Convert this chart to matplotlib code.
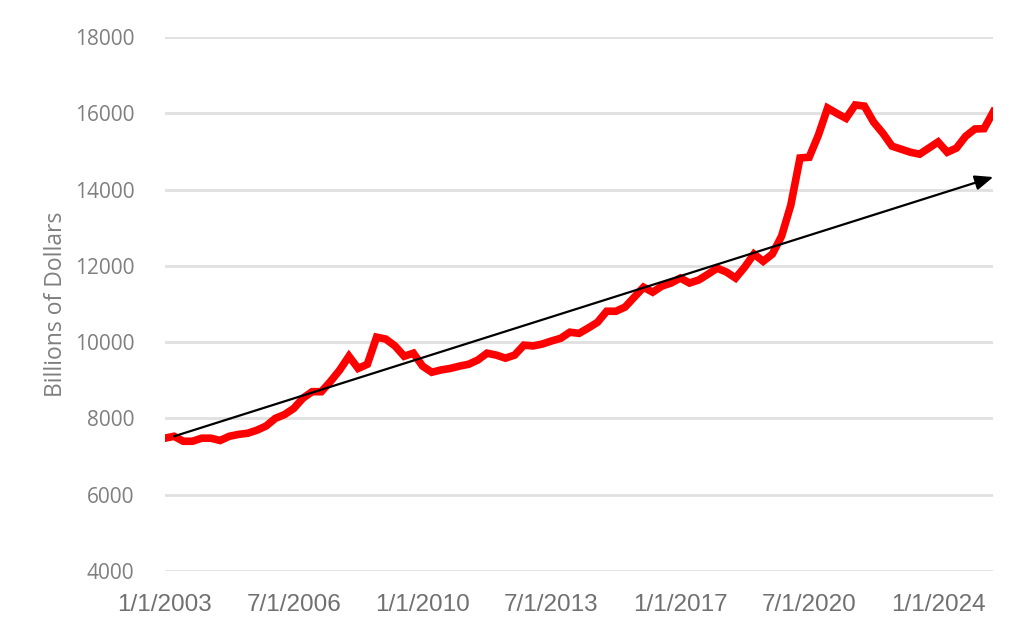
import matplotlib
matplotlib.use("Agg")
import matplotlib.pyplot as plt
from matplotlib import font_manager
import pandas as pd

# Quarterly values, 2003 Q1 onward (billions of dollars)
values = [
    7480, 7530, 7400, 7400, 7480, 7480, 7420, 7530, 7580, 7610,
    7690, 7800, 8000, 8100, 8260, 8530, 8700, 8700, 8970, 9270,
    9630, 9310, 9420, 10130, 10080, 9900, 9630, 9710, 9370, 9210,
    9270, 9310, 9370, 9420, 9530, 9710, 9660, 9580, 9660, 9920,
    9900, 9950, 10030, 10100, 10260, 10230, 10370, 10520, 10810, 10810,
    10920, 11180, 11440, 11310, 11470, 11550, 11680, 11550, 11630, 11780,
    11940, 11840, 11680, 11970, 12310, 12120, 12310, 12780, 13590, 14830,
    14850, 15430, 16140, 16000, 15870, 16220, 16190, 15770, 15480, 15140,
    15060, 14980, 14930, 15090, 15250, 14980, 15090, 15400, 15590, 15600,
    16040,
]
dates = pd.date_range("2003-01-01", periods=len(values), freq="QS")
label_step = 14

# trend arrow (start index/value, end index/value)
trend_x = [1, 90]
trend_y = [7530, 14330]

y_ticks = [4000, 6000, 8000, 10000, 12000, 14000, 16000, 18000]

GRAY = "#7f7f7f"
GRID = "#e0e0e0"

names = {f.name for f in font_manager.fontManager.ttflist}
narrow = "Liberation Sans Narrow" if "Liberation Sans Narrow" in names else "Liberation Sans"

fig = plt.figure(figsize=(10.24, 6.4), dpi=100)
ax = fig.add_axes([0.161, 0.108, 0.809, 0.834])

xs = list(range(len(values)))
ax.plot(xs, values, color="#ff0000", lw=5.5, solid_joinstyle="miter", zorder=3)

ax.annotate(
    "",
    xy=(trend_x[1], trend_y[1]),
    xytext=(trend_x[0], trend_y[0]),
    arrowprops=dict(arrowstyle="-|>,head_length=1.1,head_width=0.45", color="black", lw=1.6,
                    shrinkA=0, shrinkB=0),
    zorder=4,
)

ax.set_xlim(0, len(values) - 1)
ax.set_ylim(y_ticks[0], y_ticks[-1])
ax.set_yticks(y_ticks)
ax.grid(axis="y", color=GRID, lw=2)
ax.set_axisbelow(True)
for s in ax.spines.values():
    s.set_visible(False)

tick_pos = xs[::label_step]
ax.set_xticks(tick_pos)
ax.set_xticklabels([f"{d.month}/{d.day}/{d.year}" for d in dates[::label_step]],
                   family=[narrow, "DejaVu Sans"], fontsize=17.5, color="#707070")
ax.tick_params(axis="x", length=0, pad=17)
ax.tick_params(axis="y", length=0, pad=22, labelsize=15, labelcolor=GRAY)
for t in ax.get_yticklabels():
    t.set_family(["Open Sans", "DejaVu Sans"])

ax.set_ylabel("Billions of Dollars", fontsize=16.5, color=GRAY, family=["Open Sans", "DejaVu Sans"],
              labelpad=5)

fig.savefig("out.png", dpi=100)
